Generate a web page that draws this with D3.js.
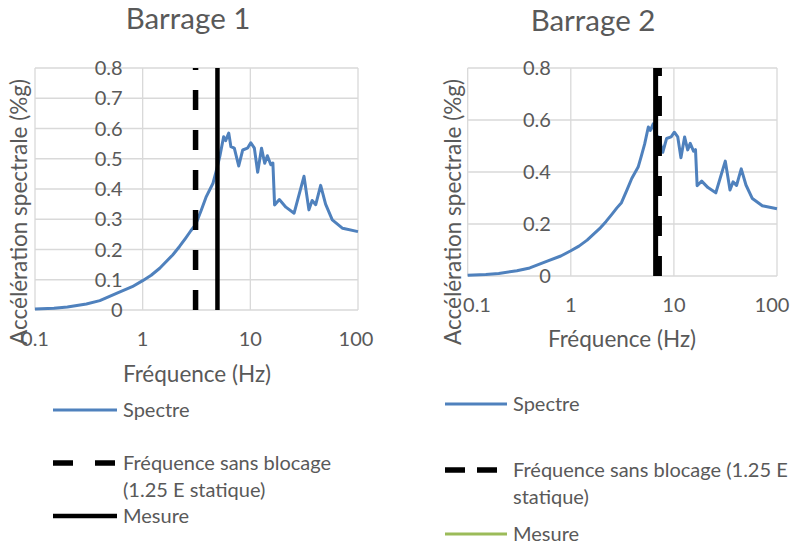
<!DOCTYPE html>
<html><head><meta charset="utf-8">
<script src="https://cdn.jsdelivr.net/npm/d3@7"></script>
<style>body{margin:0;background:#fff}svg{display:block}text{font-family:Lato,"Noto Sans",sans-serif;fill:#595959}</style>
</head><body><svg id="c" width="796" height="546"></svg>
<script>
// ---- data ----
const titles = ["Barrage 1", "Barrage 2"];
const freq = [0.1, 0.15, 0.2, 0.3, 0.4, 0.6, 0.8, 1.0, 1.2, 1.44, 1.9, 2.2, 2.5, 2.8, 3.1, 3.5, 3.9, 4.5, 4.8, 5.2, 5.65, 5.9, 6.3, 6.6, 7.1, 7.8, 8.5, 9.4, 10.1, 10.9, 11.7, 12.7, 13.6, 14.4, 15.5, 16.2, 16.8, 18.6, 21.4, 25.5, 31.5, 35.0, 37.5, 40.5, 45.0, 50.0, 57.7, 72, 100];
const accel = [0.003, 0.006, 0.01, 0.02, 0.031, 0.058, 0.077, 0.097, 0.115, 0.138, 0.182, 0.21, 0.237, 0.262, 0.282, 0.33, 0.375, 0.419, 0.457, 0.507, 0.573, 0.56, 0.585, 0.54, 0.535, 0.476, 0.529, 0.535, 0.553, 0.535, 0.455, 0.535, 0.485, 0.51, 0.48, 0.486, 0.347, 0.365, 0.34, 0.32, 0.442, 0.331, 0.362, 0.348, 0.412, 0.35, 0.298, 0.27, 0.259];
const xTicks = [0.1, 1, 10, 100];
const yTicksLeft = [0, 0.1, 0.2, 0.3, 0.4, 0.5, 0.6, 0.7, 0.8];
const yTicksRight = [0, 0.2, 0.4, 0.6, 0.8];
const freqSansBlocage = [3.1, 7.2];   // dashed lines
const freqMesureBlack = [4.95, 6.65]; // solid black lines
const yTitle = "Accélération spectrale (%g)";
const xTitle = "Fréquence (Hz)";
const legendLeft = [["Spectre"], ["Fréquence sans blocage", "(1.25 E statique)"], ["Mesure"]];
const legendRight = [["Spectre"], ["Fréquence sans blocage (1.25 E", "statique)"], ["Mesure"]];

const BLUE = "#4f81bd", GREEN = "#9bbb59", GRID = "#d9d9d9";
const svg = d3.select("#c");
svg.append("rect").attr("width", 796).attr("height", 546).attr("fill", "#fff");
const yFormat = d => d === 0 ? "0" : d3.format(".1f")(d);

function chart(cfg) {
  const g = svg.append("g");
  const x = d3.scaleLog().domain([0.1, 100]).range([cfg.x0, cfg.x1]);
  const y = d3.scaleLinear().domain([0, 0.8]).range([cfg.y0, cfg.y1]);
  // grid
  g.selectAll(".hg").data(cfg.yTicks).join("line")
    .attr("x1", cfg.x0).attr("x2", cfg.x1).attr("y1", d => y(d)).attr("y2", d => y(d))
    .attr("stroke", GRID).attr("stroke-width", 1.3);
  g.selectAll(".vg").data(xTicks).join("line")
    .attr("x1", d => x(d)).attr("x2", d => x(d)).attr("y1", cfg.y0).attr("y2", cfg.y1)
    .attr("stroke", GRID).attr("stroke-width", 1.3);
  // spectrum
  const line = d3.line().x((d, i) => x(freq[i])).y(d => y(d));
  g.append("path").attr("d", line(accel)).attr("fill", "none")
    .attr("stroke", BLUE).attr("stroke-width", 3).attr("stroke-linejoin", "round");
  // vertical lines
  const m = cfg.mesure;
  if (m != null) g.append("line").attr("x1", x(m)).attr("x2", x(m)).attr("y1", y(0)).attr("y2", y(0.8))
    .attr("stroke", "#000").attr("stroke-width", cfg.solidW);
  const s = cfg.sans;
  g.append("line").attr("x1", x(s)).attr("x2", x(s)).attr("y1", y(0)).attr("y2", y(0.8))
    .attr("stroke", "#000").attr("stroke-width", 5.5).attr("stroke-dasharray", "20,20");
  // y tick labels (axis crosses at 1 Hz)
  g.selectAll(".yl").data(cfg.yTicks).join("text")
    .attr("x", x(1) - 20).attr("y", d => y(d)).attr("dy", "0.35em")
    .attr("text-anchor", "end").attr("font-size", 20)
    .text(yFormat);
  // x tick labels
  g.selectAll(".xl").data(xTicks).join("text")
    .attr("x", d => Math.min(Math.max(x(d), cfg.xlMin), cfg.xlMax))
    .attr("y", cfg.y0 + 36).attr("text-anchor", "middle").attr("font-size", 20)
    .text(d => d);
  // x title
  g.append("text").attr("x", cfg.xtX).attr("y", cfg.xtY).attr("text-anchor", "middle")
    .attr("font-size", 22.5).text(xTitle);
  // y title
  g.append("text").attr("transform", `translate(${cfg.ytX},${cfg.ytY}) rotate(-90)`)
    .attr("text-anchor", "middle").attr("font-size", 22.5).text(yTitle);
  // title
  g.append("text").attr("x", cfg.tX).attr("y", cfg.tY).attr("text-anchor", "middle")
    .attr("font-size", 29.5).text(cfg.title);
  // legend
  const L = cfg.leg;
  const ly = L.ys;
  g.append("line").attr("x1", L.lx0).attr("x2", L.lx1).attr("y1", ly[0]).attr("y2", ly[0])
    .attr("stroke", BLUE).attr("stroke-width", 3);
  g.append("line").attr("x1", L.lx0).attr("x2", L.lx1).attr("y1", ly[1]).attr("y2", ly[1])
    .attr("stroke", "#000").attr("stroke-width", 5.5).attr("stroke-dasharray", L.dash);
  g.append("line").attr("x1", L.lx0).attr("x2", L.lx1).attr("y1", ly[2]).attr("y2", ly[2])
    .attr("stroke", L.mColor).attr("stroke-width", L.mW);
  cfg.legText.forEach((lines, i) => {
    lines.forEach((t, j) => {
      g.append("text").attr("x", L.tx).attr("y", ly[i] + j * L.lh).attr("dy", "0.35em")
        .attr("font-size", 20).text(t);
    });
  });
}

chart({
  title: titles[0], tX: 188, tY: 29,
  x0: 35, x1: 358, y0: 310, y1: 68, yTicks: yTicksLeft,
  mesure: freqMesureBlack[0], sans: freqSansBlocage[0], solidW: 4.5,
  xlMin: 0, xlMax: 356,
  xtX: 197, xtY: 382, ytX: 27, ytY: 212,
  leg: {lx0: 53, lx1: 117, tx: 123, ys: [410, 463, 516], lh: 27, dash: "20,22", mColor: "#000", mW: 4.5},
  legText: legendLeft
});
chart({
  title: titles[1], tX: 593, tY: 31,
  x0: 467.7, x1: 777, y0: 276, y1: 68, yTicks: yTicksRight,
  mesure: freqMesureBlack[1], sans: freqSansBlocage[1], solidW: 5,
  xlMin: 477, xlMax: 772,
  xtX: 622, xtY: 347, ytX: 461, ytY: 212,
  leg: {lx0: 445, lx1: 507, tx: 513, ys: [404, 470, 534], lh: 27, dash: "20,12", mColor: GREEN, mW: 3},
  legText: legendRight
});
</script></body></html>
